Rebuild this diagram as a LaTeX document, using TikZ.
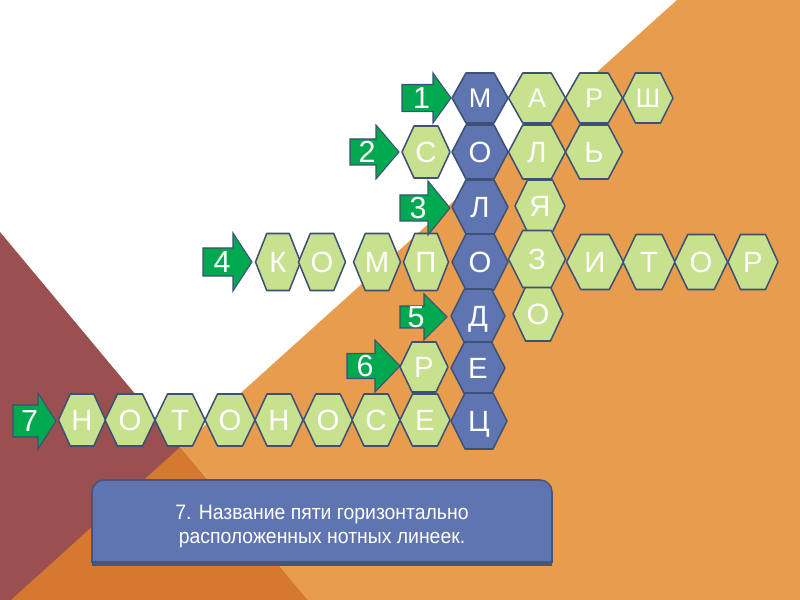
\documentclass[tikz,border=0pt]{standalone}
\usepackage{fontspec}
\setmainfont{Liberation Sans}
\newfontfamily\narrowfont[FakeStretch=0.93]{Liberation Sans}
\definecolor{bgorange}{HTML}{E89C4D}
\definecolor{bgmaroon}{HTML}{9A4F51}
\definecolor{bgdark}{HTML}{D5792E}
\definecolor{hexgreen}{HTML}{C7E18F}
\definecolor{hexblue}{HTML}{5E75B2}
\definecolor{hexline}{HTML}{3D5075}
\definecolor{arrgreen}{HTML}{00A850}
\definecolor{boxshade}{HTML}{45557F}
% #1 letter style, #2 name, #3 cx, #4 cy, #5 w, #6 h, #7 fill style, #8 letter
\newcommand\hexcell[8][lbig]{%
  \path[#7] (#3-#5/2,#4) -- ++(#5/4,-#6/2) -- ++(#5/2,0) -- ++(#5/4,#6/2)
    -- ++(-#5/4,#6/2) -- ++(-#5/2,0) -- cycle;
  \node[#1] (#2) at (#3,#4) {#8};}
% #1 name, #2 x0, #3 x1, #4 tip, #5 cy, #6 body half, #7 head half, #8 digit
\newcommand\arrowcell[8]{%
  \path[arr] (#2,#5-#6) -- (#3,#5-#6) -- (#3,#5-#7) -- (#4,#5) -- (#3,#5+#7)
    -- (#3,#5+#6) -- (#2,#5+#6) -- cycle;
  \node[digit] (#1) at ({(#2+#3)/2+4},#5) {#8};}
\begin{document}
\begin{tikzpicture}[x=0.03cm,y=-0.03cm,
  greenhex/.style={fill=hexgreen,draw=hexline,line width=1.3pt,line join=round},
  bluehex/.style={fill=hexblue,draw=hexline,line width=1.3pt,line join=round},
  lbig/.style={text=white,font=\fontsize{25}{30}\selectfont,anchor=base,inner sep=0pt,yshift=-0.315cm},
  lsmall/.style={text=white,font=\fontsize{23}{27}\selectfont,anchor=base,inner sep=0pt,yshift=-0.29cm},
  arr/.style={fill=arrgreen,draw=hexline,line width=0.9pt,line join=miter},
  digit/.style={text=white,font=\fontsize{26}{30}\selectfont,anchor=base,inner sep=0pt,yshift=-0.33cm},
  qbox/.style={fill=hexblue,draw=boxshade,line width=1.3pt},
  qtext/.style={text=white,align=center,font=\narrowfont\fontsize{17.8}{20.5}\selectfont,inner sep=0pt}]
\useasboundingbox (0,0) rectangle (800,600);
% background
\fill[white] (0,0) rectangle (800,600);
\fill[bgorange] (677,0) -- (800,0) -- (800,600) -- (11,600) -- cycle;
\fill[bgmaroon] (0,232) -- (307,600) -- (0,600) -- cycle;
\fill[bgdark] (179.7,447.6) -- (307,600) -- (11,600) -- cycle;
% row 1
\hexcell[lsmall]{r1a}{537}{98}{57}{50}{greenhex}{А}
\hexcell[lsmall]{r1b}{594}{98}{57}{50}{greenhex}{Р}
\hexcell[lsmall]{r1c}{648}{98}{50}{50}{greenhex}{Ш}
\hexcell[lsmall]{c1}{480}{98}{56}{50}{bluehex}{М}
% row 2
\hexcell{r2a}{426}{152}{48}{52}{greenhex}{С}
\hexcell{r2b}{537}{152}{57}{54}{greenhex}{Л}
\hexcell{r2c}{594}{152}{57}{54}{greenhex}{Ь}
\hexcell{c2}{480}{152}{56}{54}{bluehex}{О}
% column 537
\hexcell{v3}{540}{206}{50}{52}{greenhex}{Я}
\hexcell{v5}{538}{314}{50}{54}{greenhex}{О}
% row 3
\hexcell{c3}{480}{207}{56}{54}{bluehex}{Л}
% row 4
\hexcell{r4a}{278}{262}{45}{57}{greenhex}{К}
\hexcell{r4b}{322}{262}{47}{57}{greenhex}{О}
\hexcell{r4c}{377}{262}{47}{57}{greenhex}{М}
\hexcell{r4d}{426}{262}{45}{57}{greenhex}{П}
\hexcell{r4e}{537}{259}{57}{57}{greenhex}{З}
\hexcell{r4f}{595}{262}{57}{55}{greenhex}{И}
\hexcell{r4g}{649}{262}{52}{55}{greenhex}{Т}
\hexcell{r4h}{701}{262}{53}{55}{greenhex}{О}
\hexcell{r4i}{753}{262}{50}{55}{greenhex}{Р}
\hexcell{c4}{480}{262}{56}{56}{bluehex}{О}
% row 5
\hexcell{c5}{478}{316}{54}{54}{bluehex}{Д}
% row 6
\hexcell{r6a}{424}{367}{48}{50}{greenhex}{Р}
\hexcell{c6}{478}{368}{54}{52}{bluehex}{Е}
% row 7
\hexcell{r7a}{82}{420}{47}{52}{greenhex}{Н}
\hexcell{r7b}{130}{420}{50}{52}{greenhex}{О}
\hexcell{r7c}{180}{420}{50}{52}{greenhex}{Т}
\hexcell{r7d}{230}{420}{50}{52}{greenhex}{О}
\hexcell{r7e}{279}{420}{48}{52}{greenhex}{Н}
\hexcell{r7f}{328}{420}{49}{52}{greenhex}{О}
\hexcell{r7g}{376}{420}{48}{52}{greenhex}{С}
\hexcell{r7h}{425}{420}{50}{52}{greenhex}{Е}
\hexcell{c7}{479}{421}{56}{56}{bluehex}{Ц}
% arrows
\arrowcell{n1}{402}{433}{451}{98}{13.5}{25}{1}
\arrowcell{n2}{350}{376}{399}{152}{13}{27}{2}
\arrowcell{n3}{400}{428}{450}{208}{13}{27}{3}
\arrowcell{n4}{203}{233}{252}{262}{14}{29}{4}
\arrowcell{n5}{400}{424}{447}{317}{11}{23}{5}
\arrowcell{n6}{347}{375}{400}{366}{12.5}{26}{6}
\arrowcell{n7}{13}{38}{56}{421}{16}{28}{7}
% question box
\fill[boxshade] (92,566) -- (92,495) arc[start angle=180,end angle=270,radius=12]
  -- (540,483) arc[start angle=270,end angle=360,radius=12] -- (552,566) -- cycle;
\path[qbox] (92,562) -- (92,492) arc[start angle=180,end angle=270,radius=12]
  -- (540,480) arc[start angle=270,end angle=360,radius=12] -- (552,562) -- cycle;
\node[qtext] (q) at (322,526) {7. Название пяти горизонтально\\расположенных нотных линеек.};
\end{tikzpicture}
\end{document}
